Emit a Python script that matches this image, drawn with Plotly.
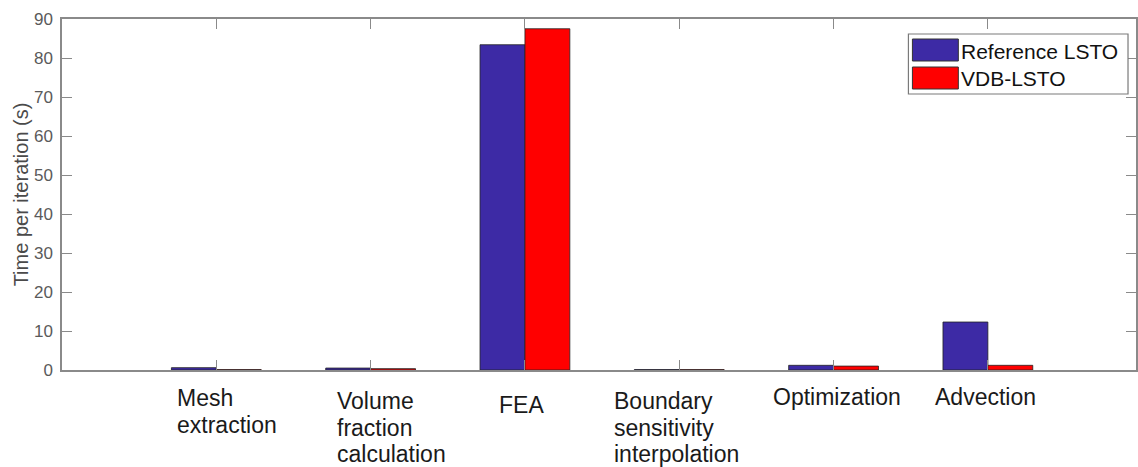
import plotly.graph_objects as go

# ---- data ----
categories = ["Mesh extraction", "Volume fraction calculation", "FEA",
              "Boundary sensitivity interpolation", "Optimization", "Advection"]
label_lines = [["Mesh", "extraction"], ["Volume", "fraction", "calculation"], ["FEA"],
               ["Boundary", "sensitivity", "interpolation"], ["Optimization"], ["Advection"]]
reference_lsto = [0.6, 0.5, 83.4, 0.1, 1.2, 12.3]
vdb_lsto = [0.1, 0.35, 87.5, 0.1, 1.0, 1.2]
series_names = ["Reference LSTO", "VDB-LSTO"]
y_ticks = [0, 10, 20, 30, 40, 50, 60, 70, 80, 90]

BLUE = "#3D2AA5"
RED = "#FF0000"
AXIS = "#8a8a8a"

W, H = 1138, 467
L, R, T, B = 62, 0, 19, 97
PW, PH = W - L - R, H - T - B

def px(x):
    return (x - L) / PW

def py(y):
    return (H - B - y) / PH

xpos = list(range(1, len(categories) + 1))

fig = go.Figure()
fig.add_trace(go.Bar(x=xpos, y=reference_lsto, name=series_names[0],
                     marker=dict(color=BLUE, line=dict(color="#222222", width=0.8)),
                     showlegend=False))
fig.add_trace(go.Bar(x=xpos, y=vdb_lsto, name=series_names[1],
                     marker=dict(color=RED, line=dict(color="#222222", width=0.8)),
                     showlegend=False))

fig.update_layout(
    width=W, height=H,
    margin=dict(l=L, r=R, t=T, b=B, pad=0),
    paper_bgcolor="white", plot_bgcolor="white",
    barmode="group", bargap=0.418, bargroupgap=0,
    font=dict(family="Liberation Sans, Arial, sans-serif"),
    xaxis=dict(range=[0, PW / 154.6], tickvals=xpos, ticktext=["" for _ in xpos],
               ticks="inside", ticklen=10, tickcolor=AXIS, tickwidth=1,
               showline=True, linecolor=AXIS, linewidth=1.5, mirror="allticks",
               showgrid=False, zeroline=False, fixedrange=True),
    yaxis=dict(range=[0, 90], tickvals=y_ticks, ticks="inside", ticklen=10,
               tickcolor=AXIS, tickwidth=1,
               showline=True, linecolor=AXIS, linewidth=1.5, mirror="allticks",
               showgrid=False, zeroline=False,
               tickfont=dict(size=17, color="#5a5a5a"),
               ticklabelstandoff=4,
               title=dict(text="Time per iteration (s)", font=dict(size=20, color="#4a4a4a"),
                          standoff=0)),
)

# category labels (left aligned text blocks below the axis)
label_left = [176, 337, 499, 614, 773, 936]
label_top = [398, 401, 405, 401, 397, 397]
line_step = 26.5
for lines, lx, ly in zip(label_lines, label_left, label_top):
    for k, s in enumerate(lines):
        fig.add_annotation(text=s, xref="paper", yref="paper",
                           x=px(lx), y=py(ly + k * line_step),
                           xanchor="left", yanchor="middle", showarrow=False,
                           font=dict(size=23, color="#1a1a1a"), borderpad=0)

# legend box drawn in the MATLAB style
fig.add_shape(type="rect", xref="paper", yref="paper",
              x0=px(910), x1=px(1130), y0=py(94), y1=py(34),
              line=dict(color="#7a7a7a", width=1.2), fillcolor="white")
for i, (name, col) in enumerate(zip(series_names, [BLUE, RED])):
    yc = 50 + 28 * i
    fig.add_shape(type="rect", xref="paper", yref="paper",
                  x0=px(914), x1=px(960), y0=py(yc + 11), y1=py(yc - 11),
                  line=dict(color="#333333", width=1), fillcolor=col)
    fig.add_annotation(text=name, xref="paper", yref="paper",
                       x=px(962), y=py(yc + 1), xanchor="left", yanchor="middle",
                       showarrow=False, font=dict(size=21, color="#111111"), borderpad=0)

fig.write_html("out.html")
